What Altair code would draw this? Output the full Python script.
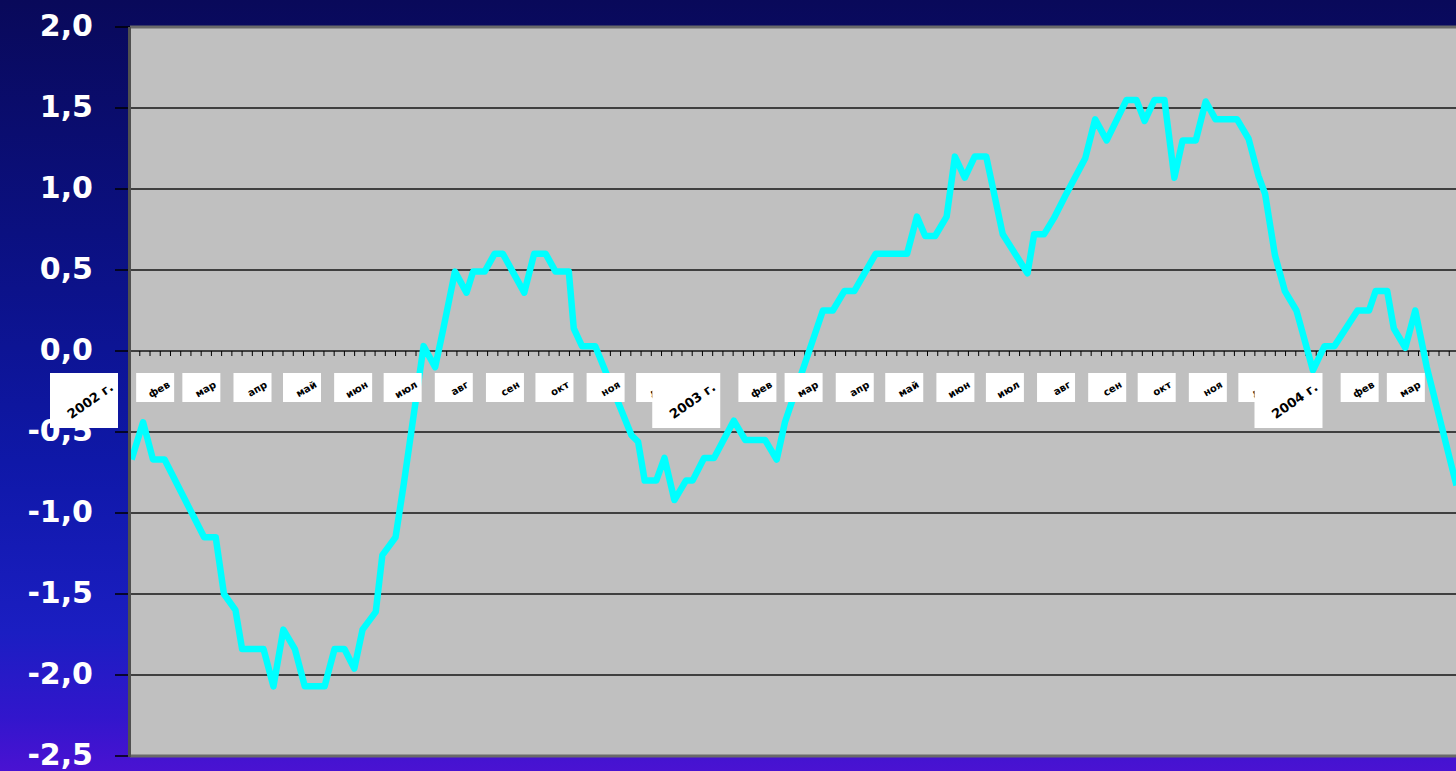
import altair as alt
import numpy as np
import pandas as pd

# Index series: observation day (days from 1 Jan of the first year) and value
days = [7, 14, 20, 27, 51, 58, 63, 70, 74, 87, 93, 99, 106, 112, 124, 130, 136, 142, 147, 155,
        159, 167, 172, 184, 191, 196, 203, 210, 214, 221, 227, 232, 245, 251, 258, 264, 272, 275,
        280, 288, 310, 314, 318, 325, 330, 336, 343, 347, 354, 360, 372, 379, 391, 398, 403, 426,
        432, 439, 445, 458, 477, 483, 488, 494, 501, 506, 512, 518, 525, 535, 550, 554, 560, 566,
        573, 585, 591, 598, 610, 616, 621, 627, 633, 639, 644, 652, 658, 664, 677, 684, 690, 694,
        700, 706, 713, 723, 730, 736, 750, 757, 761, 768, 772, 779, 785, 792, 810]
values = [-0.67, -0.44, -0.67, -0.67, -1.15, -1.15, -1.50, -1.60, -1.84, -1.84, -2.07, -1.72,
          -1.84, -2.07, -2.07, -1.84, -1.84, -1.96, -1.72, -1.61, -1.26, -1.15, -0.82, 0.03,
          -0.10, 0.14, 0.49, 0.36, 0.49, 0.49, 0.60, 0.60, 0.36, 0.60, 0.60, 0.49, 0.49, 0.14,
          0.03, 0.03, -0.52, -0.56, -0.80, -0.80, -0.66, -0.92, -0.80, -0.80, -0.66, -0.66,
          -0.43, -0.55, -0.55, -0.67, -0.44, 0.25, 0.25, 0.37, 0.37, 0.60, 0.60, 0.83, 0.71,
          0.71, 0.83, 1.20, 1.07, 1.20, 1.20, 0.72, 0.48, 0.72, 0.72, 0.82, 0.96, 1.19, 1.43,
          1.30, 1.55, 1.55, 1.42, 1.55, 1.55, 1.07, 1.30, 1.30, 1.54, 1.43, 1.43, 1.31, 1.08,
          0.97, 0.59, 0.37, 0.25, -0.12, 0.03, 0.03, 0.25, 0.25, 0.37, 0.37, 0.14, 0.02, 0.25,
          -0.10, -0.83]

# Calendar labels of the category axis
month_names = ["фев", "мар", "апр", "май", "июн", "июл", "авг", "сен", "окт", "ноя", "дек"]
month_days = [31, 59, 90, 120, 151, 181, 212, 243, 273, 304, 334,
              396, 424, 455, 485, 516, 546, 577, 608, 638, 669, 699,
              761, 789]
month_labels = month_names + month_names + month_names[:2]
year_labels = ["2002 г.", "2003 г.", "2004 г."]
year_days = [0, 365, 730]

y_ticks = [2.0, 1.5, 1.0, 0.5, 0.0, -0.5, -1.0, -1.5, -2.0, -2.5]
minor_tick_days = np.arange(12.0, 810.0, 6.2)

series = pd.DataFrame({"day": days, "value": values})
months = pd.DataFrame({"day": month_days, "label": month_labels, "value": 0.0})
years = pd.DataFrame({"day": year_days, "label": year_labels, "value": 0.0})
yt = pd.DataFrame({"value": y_ticks,
                   "label": [f"{v:.1f}".replace(".", ",") for v in y_ticks]})
inner_grid = yt[(yt["value"] < 2.0) & (yt["value"] > -2.5)]
edges = yt[(yt["value"] == 2.0) | (yt["value"] == -2.5)]
minor = pd.DataFrame({"day": minor_tick_days, "value": 0.0})
one = pd.DataFrame({"k": [0]})

W, H = 1326, 729
xs = alt.Scale(domain=[6.06, 809.7], nice=False, zero=False)
ys = alt.Scale(domain=[-2.5, 2.0], nice=False, zero=False)
X = alt.X("day:Q", scale=xs, axis=None)
Y = alt.Y("value:Q", scale=ys, axis=None)

# page background: deep navy fading to violet
backdrop = alt.Chart(one).mark_rect(
    fill=alt.LinearGradient(
        gradient="linear", x1=0, y1=0, x2=0, y2=1,
        stops=[alt.GradientStop(color="#09095A", offset=0.0),
               alt.GradientStop(color="#0B1080", offset=0.3),
               alt.GradientStop(color="#0F18A8", offset=0.6),
               alt.GradientStop(color="#1B1EC2", offset=0.82),
               alt.GradientStop(color="#3216CC", offset=0.93),
               alt.GradientStop(color="#4A12D2", offset=1.0)]),
).encode(x=alt.value(-130), x2=alt.value(W), y=alt.value(-27), y2=alt.value(H + 15))

plot_bg = alt.Chart(one).mark_rect(color="#C0C0C0").encode(
    x=alt.value(0), x2=alt.value(W), y=alt.value(0), y2=alt.value(H))

grid = alt.Chart(inner_grid).mark_rule(color="#141414", strokeWidth=1.3).encode(
    y=Y, x=alt.value(0), x2=alt.value(W))

frame = alt.Chart(edges).mark_rule(color="#6A6A6A", strokeWidth=3).encode(
    y=Y, x=alt.value(0), x2=alt.value(W))

left_edge = alt.Chart(one).mark_rule(color="#505050", strokeWidth=3).encode(
    x=alt.value(-0.5), y=alt.value(0), y2=alt.value(H + 1))

y_tickmarks = alt.Chart(yt).mark_rule(color="#000000", strokeWidth=1.5).encode(
    y=Y, x=alt.value(-15), x2=alt.value(0))

y_text = alt.Chart(yt).mark_text(
    align="right", baseline="middle", font="DejaVu Sans", fontSize=30,
    fontWeight="bold", color="#FFFFFF",
).encode(y=Y, x=alt.value(-37), text="label:N")

zero_ticks = alt.Chart(minor).mark_rule(color="#000000", strokeWidth=1, y2Offset=5).encode(
    x=X, y=Y, y2="value:Q")

line = alt.Chart(series).mark_line(
    color="#00FFFF", strokeWidth=6.5, strokeJoin="round", clip=True
).encode(x=X, y=Y)

month_box = alt.Chart(months).mark_rect(
    color="#FFFFFF", xOffset=-35, x2Offset=3, yOffset=22, y2Offset=51
).encode(x=X, x2="day:Q", y=Y, y2="value:Q")

month_text = alt.Chart(months).mark_text(
    align="right", baseline="middle", angle=330, font="DejaVu Sans", fontSize=10,
    fontWeight="bold", color="#000000", xOffset=-2, yOffset=33,
).encode(x=X, y=Y, text="label:N")

year_box = alt.Chart(years).mark_rect(
    color="#FFFFFF", xOffset=-70, x2Offset=-2, yOffset=22, y2Offset=77
).encode(x=X, x2="day:Q", y=Y, y2="value:Q")

year_text = alt.Chart(years).mark_text(
    align="right", baseline="middle", angle=325, font="DejaVu Sans", fontSize=13,
    fontWeight="bold", color="#000000", xOffset=-8, yOffset=35,
).encode(x=X, y=Y, text="label:N")

chart = alt.layer(
    backdrop, plot_bg, grid, frame, y_tickmarks, y_text,
    zero_ticks, line, left_edge,
    month_box, month_text, year_box, year_text,
).properties(
    width=W, height=H,
    padding={"left": 130, "top": 27, "right": 0, "bottom": 15},
    autosize=alt.AutoSizeParams(type="none"),
    background="#1B1EC2",
).configure_view(stroke=None)

chart.save("out.html", embed_options={"renderer": "svg", "actions": False})
